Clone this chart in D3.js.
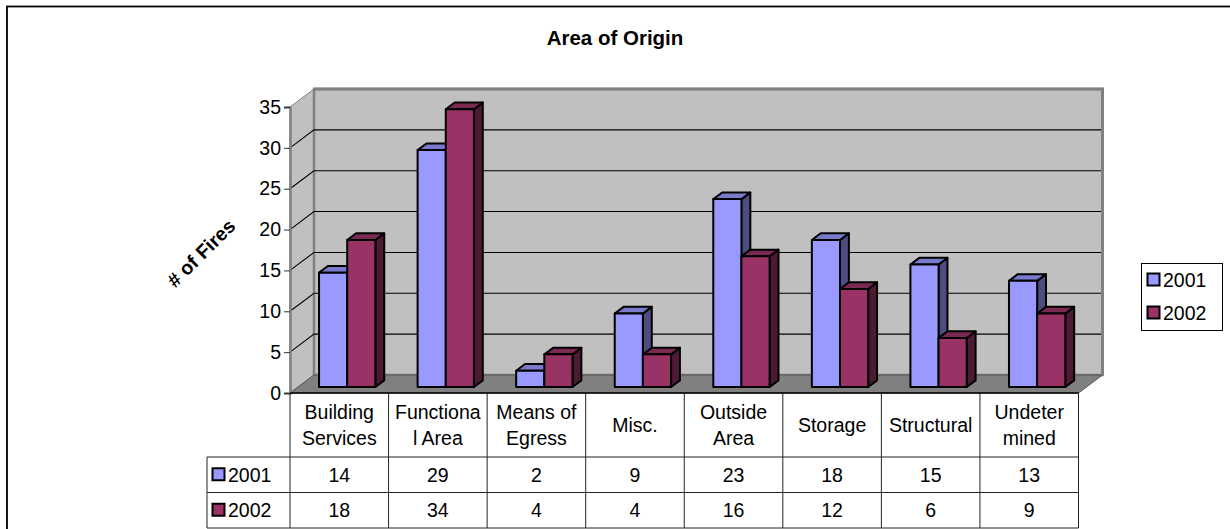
<!DOCTYPE html>
<html>
<head>
<meta charset="utf-8">
<script src="https://cdn.jsdelivr.net/npm/d3@7"></script>
<style>
  html, body { margin: 0; padding: 0; background: #fff; }
  svg { display: block; font-family: "Liberation Sans", Arial, sans-serif; }
</style>
</head>
<body>
<svg id="chart" width="1230" height="529"></svg>
<script>
// Fires by area of origin, two years
const categories = ["Building\nServices", "Functiona\nl Area", "Means of\nEgress", "Misc.",
                    "Outside\nArea", "Storage", "Structural", "Undeter\nmined"];
const seriesNames = ["2001", "2002"];
const values2001 = [14, 29, 2, 9, 23, 18, 15, 13];
const values2002 = [18, 34, 4, 4, 16, 12, 6, 9];
const yTicks = [0, 5, 10, 15, 20, 25, 30, 35];
const titleText = "Area of Origin";
const yTitle = "# of Fires";

const seriesValues = [values2001, values2002];
const front = ["#9999ff", "#993366"];
const topC  = ["#7a7acc", "#7a2952"];
const sideC = ["#4d4d80", "#4d1a33"];
const FS = 19.5;

const svg = d3.select("#chart");

// outer frame (chart area runs past the right and bottom edges)
svg.append("rect").attr("x", 7).attr("y", 6.5).attr("width", 1240).attr("height", 540)
  .attr("fill", "none").attr("stroke", "#000").attr("stroke-width", 1.8);

// scales for the front plane of the 3D box
const x = d3.scaleBand().domain(d3.range(categories.length)).range([290, 1078.5]);
const y = d3.scaleLinear().domain([0, 35]).range([393, 107]);
const xs = d3.scaleBand().domain(d3.range(seriesNames.length))
  .range([0, x.bandwidth()]).paddingInner(0).paddingOuter(0.75);

// depth projection
const DX = 24, DY = -18;
const P = (px, py, f) => [px + DX * f, py + DY * f];
const poly = pts => "M" + pts.map(p => p.join(",")).join("L") + "Z";

const x0 = x.range()[0], x1 = x.range()[1];
const yb = y(0), yt = y(35);

const g = svg.append("g");

// side wall
g.append("path").attr("d", poly([P(x0, yt, 0), P(x0, yt, 1), P(x0, yb, 1), P(x0, yb, 0)]))
  .attr("fill", "#c0c0c0").attr("stroke", "#808080").attr("stroke-width", 1);
// back wall
g.append("path").attr("d", poly([P(x0, yt, 1), P(x1, yt, 1), P(x1, yb, 1), P(x0, yb, 1)]))
  .attr("fill", "#c0c0c0").attr("stroke", "#808080").attr("stroke-width", 2.5);
// floor
g.append("path").attr("d", poly([P(x0, yb, 0), P(x1, yb, 0), P(x1, yb, 1), P(x0, yb, 1)]))
  .attr("fill", "#808080").attr("stroke", "#555").attr("stroke-width", 1);

// gridlines on side and back walls
yTicks.filter(t => t > 0 && t < 35).forEach(t => {
  const a = P(x0, y(t), 0), b = P(x0, y(t), 1), c = P(x1, y(t), 1);
  g.append("path").attr("d", `M${a}L${b}L${c}`).attr("fill", "none")
    .attr("stroke", "#000").attr("stroke-width", 1.1);
});
// back wall frame edges over gridlines
g.append("path").attr("d", `M${P(x0, yt, 1)}L${P(x1, yt, 1)}L${P(x1, yb, 1)}`)
  .attr("fill", "none").attr("stroke", "#808080").attr("stroke-width", 3);

// value axis
const axis = d3.axisLeft(y).tickValues(yTicks).tickSize(6).tickPadding(3);
const ax = svg.append("g").attr("transform", `translate(${x0},0)`).call(axis);
ax.select(".domain").attr("stroke", "#808080").attr("stroke-width", 2.5);
ax.selectAll(".tick line").attr("stroke", "#333").attr("stroke-width", 1);
ax.selectAll(".tick text").attr("font-size", FS).attr("fill", "#000")
  .attr("font-family", "Liberation Sans, Arial, sans-serif");

// bars
const f1 = 0.33, f2 = 0.70;
categories.forEach((c, i) => {
  seriesNames.forEach((s, j) => {
    const v = seriesValues[j][i];
    const L = x(i) + xs(j), R = L + xs.bandwidth();
    const T = y(v), B = y(0);
    const bg = g.append("g").attr("stroke", "#000").attr("stroke-width", 2).attr("stroke-linejoin", "round");
    bg.append("path").attr("d", poly([P(R, T, f1), P(R, T, f2), P(R, B, f2), P(R, B, f1)])).attr("fill", sideC[j]);
    bg.append("path").attr("d", poly([P(L, T, f1), P(L, T, f2), P(R, T, f2), P(R, T, f1)])).attr("fill", topC[j]);
    bg.append("path").attr("d", poly([P(L, T, f1), P(R, T, f1), P(R, B, f1), P(L, B, f1)])).attr("fill", front[j]);
  });
});

// data table
const rowTop = [393, 457, 492.5, 528];
const tableLeft = 207;
const tg = svg.append("g").attr("stroke", "#222").attr("stroke-width", 1).attr("fill", "none");
tg.append("line").attr("x1", x0).attr("x2", x1).attr("y1", rowTop[0]).attr("y2", rowTop[0]).attr("stroke", "#000").attr("stroke-width", 1.5);
[1, 2, 3].forEach(r => tg.append("line").attr("x1", tableLeft).attr("x2", x1).attr("y1", rowTop[r]).attr("y2", rowTop[r]));
d3.range(categories.length + 1).forEach(i => {
  const xx = i < categories.length ? x(i) : x1;
  tg.append("line").attr("x1", xx).attr("x2", xx).attr("y1", rowTop[0]).attr("y2", rowTop[3]);
});
tg.append("line").attr("x1", tableLeft).attr("x2", tableLeft).attr("y1", rowTop[1]).attr("y2", rowTop[3]);

const txt = svg.append("g").attr("font-size", FS).attr("fill", "#000").attr("text-anchor", "middle");
categories.forEach((c, i) => {
  const lines = c.split("\n");
  const cx = x(i) + x.bandwidth() / 2;
  const cy = (rowTop[0] + rowTop[1]) / 2;
  lines.forEach((ln, k) => {
    txt.append("text").attr("x", cx).attr("y", cy + (k - (lines.length - 1) / 2) * 26)
      .attr("dy", "0.36em").text(ln);
  });
  seriesValues.forEach((vals, j) => {
    txt.append("text").attr("x", cx).attr("y", (rowTop[j + 1] + rowTop[j + 2]) / 2)
      .attr("dy", "0.36em").text(vals[i]);
  });
});
seriesNames.forEach((s, j) => {
  const cy = (rowTop[j + 1] + rowTop[j + 2]) / 2;
  svg.append("rect").attr("x", 212.5).attr("y", cy - 6.5).attr("width", 12).attr("height", 12)
    .attr("fill", front[j]).attr("stroke", "#000").attr("stroke-width", 2);
  svg.append("text").attr("x", 228).attr("y", cy).attr("dy", "0.36em")
    .attr("font-size", FS).text(s);
});

// legend
const lg = svg.append("g");
lg.append("rect").attr("x", 1141.5).attr("y", 263.5).attr("width", 81).attr("height", 67)
  .attr("fill", "#fff").attr("stroke", "#000").attr("stroke-width", 1);
seriesNames.forEach((s, j) => {
  const cy = 280 + j * 33;
  lg.append("rect").attr("x", 1147.5).attr("y", cy - 6.5).attr("width", 12).attr("height", 12)
    .attr("fill", front[j]).attr("stroke", "#000").attr("stroke-width", 2);
  lg.append("text").attr("x", 1163).attr("y", cy).attr("dy", "0.36em").attr("font-size", FS).text(s);
});

// titles
svg.append("text").attr("x", 615).attr("y", 38).attr("dy", "0.36em").attr("text-anchor", "middle")
  .attr("font-size", 20.5).attr("font-weight", "bold").text(titleText);
svg.append("text").attr("transform", "translate(201,253) rotate(-45)")
  .attr("text-anchor", "middle").attr("dy", "0.36em")
  .attr("font-size", FS).attr("font-weight", "bold").text(yTitle);
</script>
</body>
</html>
